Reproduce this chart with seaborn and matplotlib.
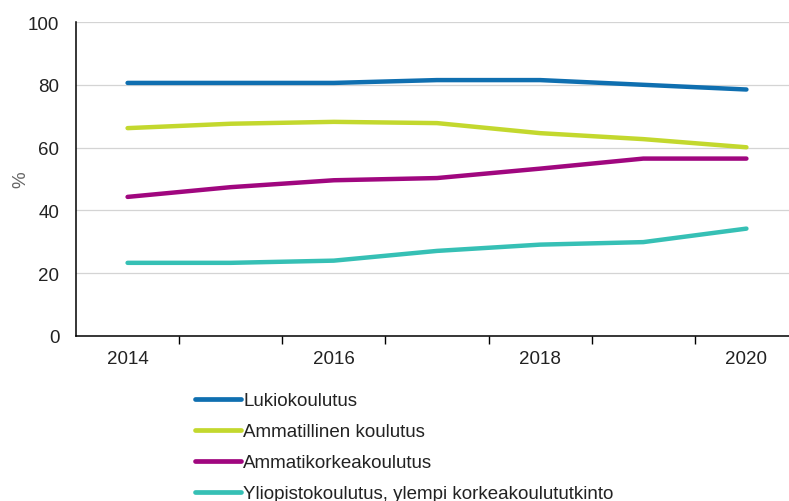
import numpy as np
import pandas as pd
import seaborn as sns
import matplotlib.pyplot as plt
from matplotlib.ticker import FixedLocator

# Data
years = [2014, 2015, 2016, 2017, 2018, 2019, 2020]
lukio = [80.6, 80.6, 80.6, 81.5, 81.5, 80.0, 78.5]
ammatillinen = [66.2, 67.6, 68.2, 67.8, 64.6, 62.7, 60.1]
amk = [44.3, 47.4, 49.6, 50.3, 53.3, 56.5, 56.5]
yliopisto = [23.3, 23.3, 24.0, 27.1, 29.1, 29.9, 34.2]

series_names = ["Lukiokoulutus", "Ammatillinen koulutus",
                "Ammatikorkeakoulutus",
                "Yliopistokoulutus, ylempi korkeakoulututkinto"]
colors = ["#0f6fb0", "#c3d82e", "#a0077f", "#36c0b5"]

df = pd.DataFrame({
    "Vuosi": years * 4,
    "Osuus": lukio + ammatillinen + amk + yliopisto,
    "Koulutus": [n for n in series_names for _ in years],
})

sns.set_style("white")
plt.rcParams['font.family'] = ['Liberation Sans', 'DejaVu Sans']
fs = 13.5

fig = plt.figure(figsize=(7.89, 5.02), dpi=100)
ax = fig.add_axes([76 / 789, 1 - 337 / 502, (798 - 76) / 789, 314 / 502])

sns.lineplot(data=df, x="Vuosi", y="Osuus", hue="Koulutus",
             hue_order=series_names, palette=colors, linewidth=3.2,
             ax=ax, legend=False)

# axes styling
ax.set_xlim(2013.5, 2020.5)
ax.set_ylim(0, 100)
ax.set_yticks(range(0, 101, 20))
ax.set_xticks([2014, 2016, 2018, 2020])
ax.xaxis.set_minor_locator(FixedLocator([2014.5, 2015.5, 2016.5, 2017.5, 2018.5, 2019.5]))
ax.tick_params(axis='x', which='major', length=0, pad=10, labelsize=fs, labelcolor='#222222')
ax.tick_params(axis='x', which='minor', length=6, width=1, direction='out', color='black', bottom=True)
ax.tick_params(axis='y', length=0, pad=12, labelsize=fs, labelcolor='#222222')
ax.grid(axis='y', color='#d4d4d4', linewidth=0.9)
ax.set_axisbelow(True)
for s in ['top', 'right']:
    ax.spines[s].set_visible(False)
for s in ['left', 'bottom']:
    ax.spines[s].set_color('black')
    ax.spines[s].set_linewidth(1.1)

ax.set_xlabel("")
ax.set_ylabel("%", fontsize=fs, color='#666666')
ax.yaxis.set_label_coords(-0.064, 0.5)

# legend below the plot
handles = [plt.Line2D([], [], color=c, linewidth=3.4) for c in colors]
fig.legend(handles, series_names, loc='upper left',
           bbox_to_anchor=(195 / 789, 1 - 393 / 502), frameon=False,
           fontsize=fs, handlelength=2.45, handletextpad=0.12,
           labelspacing=0.74, borderaxespad=0, borderpad=0.0,
           labelcolor='#222222')

plt.savefig("out.png", dpi=100)
